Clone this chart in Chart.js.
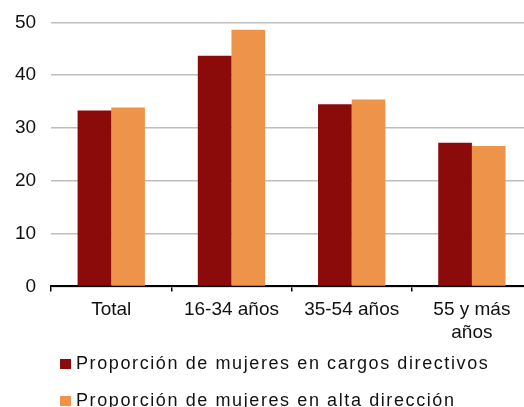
<!DOCTYPE html>
<html>
<head>
<meta charset="utf-8">
<script src="https://cdn.jsdelivr.net/npm/chart.js@4/dist/chart.umd.min.js"></script>
<style>
  html, body { margin: 0; padding: 0; background: #fff; overflow: hidden; width: 524px; height: 407px; }
  #wrap { position: absolute; left: 0; top: -4px; width: 534px; height: 355px; }
  #legend { position: absolute; left: 60px; top: 345px; font-family: "Liberation Sans", Arial, sans-serif; font-size: 18px; letter-spacing: 1.6px; color: #111; }
  .item { display: flex; align-items: center; height: 37px; white-space: nowrap; }
  .box { width: 11px; height: 10px; margin-right: 5px; }
</style>
</head>
<body>
<div id="wrap"><canvas id="chart"></canvas></div>
<div id="legend"></div>
<script>
  // Categories and series
  const categories = ['Total', '16-34 años', '35-54 años', ['55 y más', 'años']];
  const seriesNames = ['Proporción de mujeres en cargos directivos', 'Proporción de mujeres en alta dirección'];
  const directivos = [33.3, 43.7, 34.5, 27.2];
  const altaDireccion = [33.9, 48.6, 35.4, 26.6];
  const yTicks = [0, 10, 20, 30, 40, 50];
  const colors = ['#8B0B0A', '#EE934A'];

  const font = { family: '"Liberation Sans", Arial, sans-serif', size: 19 };

  const ctx = document.getElementById('chart').getContext('2d');
  const chart = new Chart(ctx, {
    type: 'bar',
    data: {
      labels: categories,
      datasets: [
        { label: seriesNames[0], data: directivos, backgroundColor: colors[0] },
        { label: seriesNames[1], data: altaDireccion, backgroundColor: colors[1] }
      ]
    },
    options: {
      responsive: true,
      maintainAspectRatio: false,
      animation: false,
      layout: { padding: { top: 6, right: 2, left: 0, bottom: 0 } },
      plugins: { legend: { display: false }, tooltip: { enabled: false } },
      datasets: { bar: { categoryPercentage: 0.56, barPercentage: 1 } },
      scales: {
        x: {
          grid: { display: true, drawOnChartArea: false, drawTicks: true, tickLength: 5, color: '#000', lineWidth: 1.5, offset: true },
          border: { display: true, color: '#000', width: 2 },
          ticks: { font: font, color: '#111', padding: 7, maxRotation: 0, autoSkip: false }
        },
        y: {
          min: 0,
          max: 50,
          afterBuildTicks: axis => { axis.ticks = yTicks.map(v => ({ value: v })); },
          grid: { color: '#BEBEBE', lineWidth: 1.5, drawTicks: false },
          border: { display: false },
          ticks: { font: font, color: '#111', padding: 15 }
        }
      }
    }
  });

  // Build the stacked legend from the series
  const legend = document.getElementById('legend');
  seriesNames.forEach((name, i) => {
    const item = document.createElement('div');
    item.className = 'item';
    const box = document.createElement('span');
    box.className = 'box';
    box.style.background = colors[i];
    const txt = document.createElement('span');
    txt.textContent = name;
    item.appendChild(box);
    item.appendChild(txt);
    legend.appendChild(item);
  });
</script>
</body>
</html>
